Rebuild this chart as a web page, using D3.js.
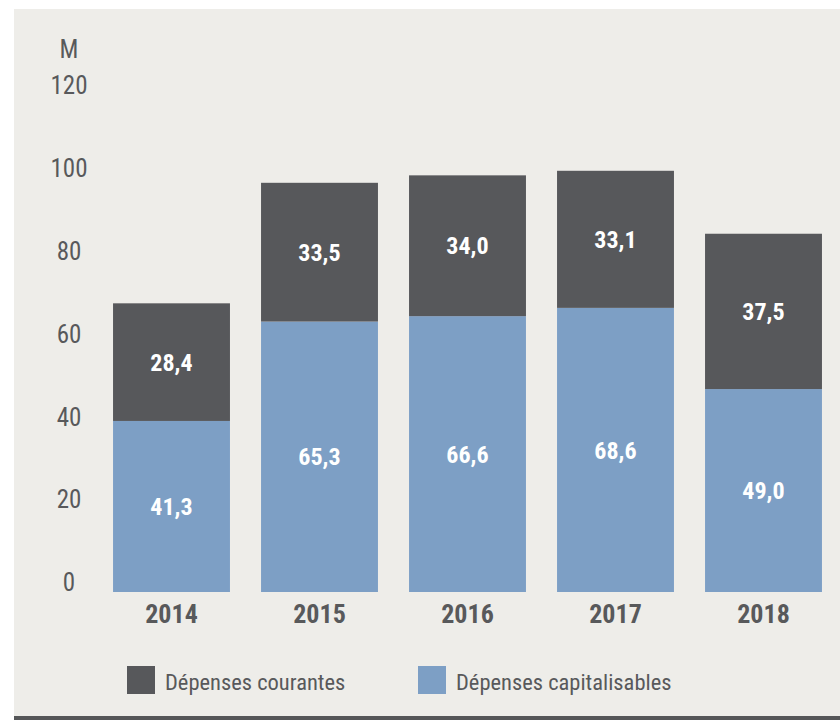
<!DOCTYPE html>
<html>
<head>
<meta charset="utf-8">
<script src="https://cdn.jsdelivr.net/npm/d3@7"></script>
<style>
  html, body { margin: 0; padding: 0; background: #ffffff; }
  svg { display: block; }
  text { font-family: "Liberation Sans Narrow", "Roboto Condensed", "DejaVu Sans Condensed", "Liberation Sans", sans-serif; }
</style>
</head>
<body>
<svg id="chart" width="840" height="720"></svg>
<script>
// Annual spending, in millions
const years = ["2014", "2015", "2016", "2017", "2018"];
const capitalisables = [41.3, 65.3, 66.6, 68.6, 49.0];
const courantes = [28.4, 33.5, 34.0, 33.1, 37.5];
const yTicks = [0, 20, 40, 60, 80, 100, 120];
const seriesNames = ["Dépenses courantes", "Dépenses capitalisables"];
const unitLabel = "M";

const colors = { courantes: "#57585b", capitalisables: "#7d9fc5" };
const textColor = "#58595b";

const svg = d3.select("#chart");

// Panel background and bottom rule
svg.append("rect").attr("x", 14).attr("y", 9).attr("width", 826).attr("height", 711).attr("fill", "#eeede9");
svg.append("rect").attr("x", 14).attr("y", 716).attr("width", 826).attr("height", 4).attr("fill", "#555658");

const x = d3.scaleBand().domain(years).range([97.5, 837.5]).paddingInner(0.21).paddingOuter(0.105);
const y = d3.scaleLinear().domain([0, 120]).range([592, 95]);

const rows = years.map((yr, i) => ({ year: yr, capitalisables: capitalisables[i], courantes: courantes[i] }));
const stack = d3.stack().keys(["capitalisables", "courantes"]);
const layers = stack(rows);

// Stacked bars
const g = svg.append("g");
layers.forEach(layer => {
  g.selectAll(null).data(layer).join("rect")
    .attr("x", d => x(d.data.year))
    .attr("width", x.bandwidth())
    .attr("y", d => y(d[1]))
    .attr("height", d => y(d[0]) - y(d[1]))
    .attr("fill", colors[layer.key]);
});

// Value labels inside each segment
const fmt = v => v.toFixed(1).replace(".", ",");
layers.forEach(layer => {
  g.selectAll(null).data(layer).join("text")
    .attr("x", d => x(d.data.year) + x.bandwidth() / 2)
    .attr("y", d => (y(d[0]) + y(d[1])) / 2)
    .attr("dy", "0.36em")
    .attr("text-anchor", "middle")
    .attr("font-size", 24)
    .attr("font-weight", "bold")
    .attr("fill", "#ffffff")
    .text(d => fmt(d.data[layer.key]));
});

// Y axis: centred tick labels, no line
const yAxis = d3.axisLeft(y).tickValues(yTicks).tickSize(0).tickPadding(0);
const ya = svg.append("g").attr("transform", "translate(69,0)").call(yAxis);
ya.select(".domain").remove();
ya.selectAll("text")
  .attr("text-anchor", "middle")
  .attr("dy", "-0.05em")
  .attr("x", 0)
  .attr("font-size", 25)
  .attr("font-family", null)
  .attr("fill", textColor);

svg.append("text")
  .attr("x", 69).attr("y", 58)
  .attr("text-anchor", "middle")
  .attr("font-size", 25)
  .attr("fill", textColor)
  .text(unitLabel);

// X axis: bold year labels
const xAxis = d3.axisBottom(x).tickSize(0).tickPadding(0);
const xa = svg.append("g").attr("transform", "translate(0,592)").call(xAxis);
xa.select(".domain").remove();
xa.selectAll("text")
  .attr("y", 31)
  .attr("dy", 0)
  .attr("font-size", 26)
  .attr("font-weight", "bold")
  .attr("font-family", null)
  .attr("fill", textColor);

// Legend
const legendItems = [
  { name: seriesNames[0], color: colors.courantes, x: 127 },
  { name: seriesNames[1], color: colors.capitalisables, x: 418 }
];
const lg = svg.append("g").selectAll("g").data(legendItems).join("g")
  .attr("transform", d => `translate(${d.x},666)`);
lg.append("rect").attr("width", 28).attr("height", 28).attr("fill", d => d.color);
lg.append("text")
  .attr("x", 38).attr("y", 24)
  .attr("font-size", 22.5)
  .attr("fill", textColor)
  .text(d => d.name);
</script>
</body>
</html>
